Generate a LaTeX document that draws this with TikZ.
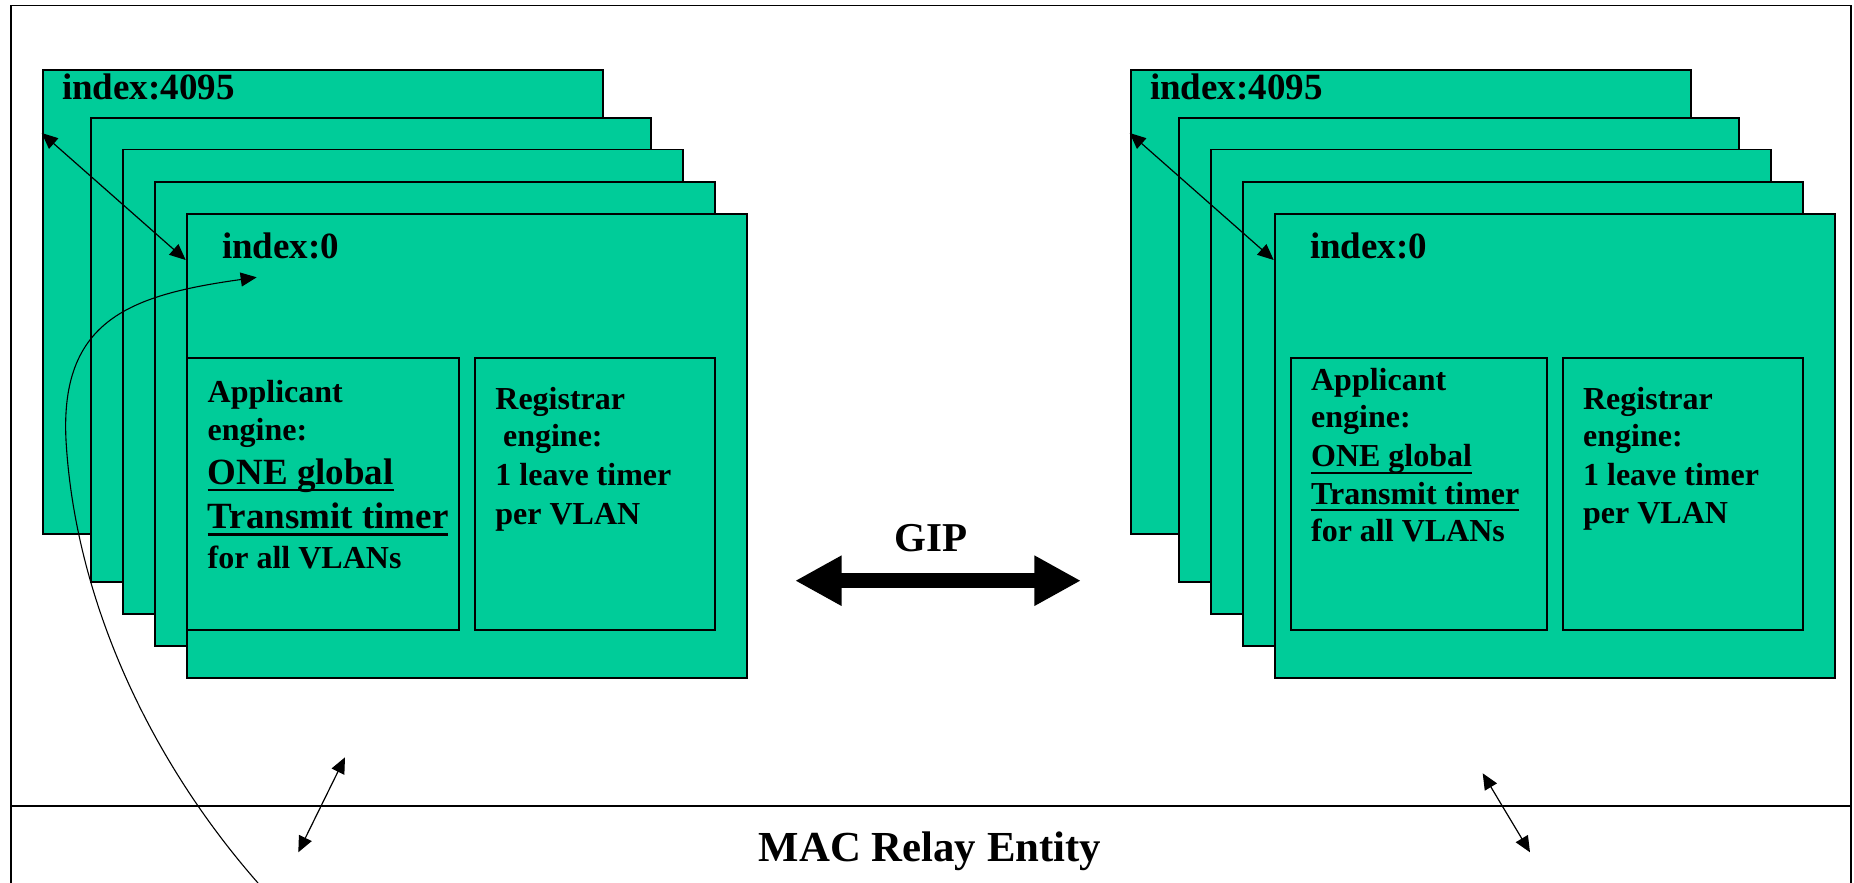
\documentclass[tikz,border=0pt]{standalone}
\usepackage{fontspec}
\setmainfont{Liberation Serif}
\usetikzlibrary{arrows.meta}
\definecolor{vlangreen}{RGB}{0,204,153}

\newcommand{\thickul}[1]{\setbox0\hbox{#1}\rlap{\rule[-3.6pt]{\wd0}{1.1pt}}\box0}

\tikzset{
card/.style={draw,fill=vlangreen,line width=0.9pt,anchor=north west,
inner sep=0pt,minimum width=280pt,minimum height=232pt},
engine/.style={draw,fill=vlangreen,line width=1pt,anchor=north west,
inner sep=0pt,minimum height=136.2pt},
region/.style={draw,line width=0.8pt,anchor=north west,inner sep=0pt,
minimum width=920pt},
lbl/.style={anchor=base west,inner sep=0pt,
font=\bfseries\fontsize{16}{19}\selectfont},
biglbl/.style={lbl,font=\bfseries\fontsize{18.5}{22}\selectfont},
link/.style={{Triangle[length=8pt,width=7pt]}-{Triangle[length=8pt,width=7pt]},
line width=0.6pt}
}

\begin{document}
\begin{tikzpicture}[x=0.5pt,y=-0.5pt]
\useasboundingbox (0,0) rectangle (1854,883);
\clip (0,0) rectangle (1854,883);

% bridge frame and relay
\node[region,minimum height=400pt](gvrp) at (10,4.7){};
\node[region,minimum height=60pt,line width=1.1pt](relay) at (10,804.7){};

% one card per VLAN, both ports
\foreach \n/\x/\y in {1/41.7/69, 2/90/117, 3/122/148.7, 4/153.7/181, 5/185.7/213}{
\node[card](l\n) at (\x,\y){};
\node[card](r\n) at (\x+1088,\y){};
}

\node[engine,minimum width=136.3pt](lapp) at (185.7,356.7){};
\node[engine,minimum width=120.2pt](lreg) at (473.7,356.7){};
\node[engine,minimum width=128.2pt](rapp) at (1289.7,356.7){};
\node[engine,minimum width=120.2pt](rreg) at (1561.7,356.7){};

% left port
\node[biglbl](ltop) at (61.7,99.3){index:4095};
\node[biglbl](lzero) at (221.7,258.3){index:0};

\node[lbl](la1) at (207.3,402.7){Applicant};
\node[lbl](la2) at (207.3,440){engine:};
\node[biglbl](la3) at (207.3,484){\thickul{ONE global}};
\node[biglbl](la4) at (207.3,528.3){\thickul{Transmit timer}};
\node[lbl](la5) at (207.3,568.3){for all VLANs};

\node[lbl](lr1) at (495,409){Registrar};
\node[lbl](lr2) at (502.7,446.7){engine:};
\node[lbl](lr3) at (495,485.7){1 leave timer};
\node[lbl](lr4) at (495,524){per VLAN};

% right port
\node[biglbl](rtop) at (1149.7,99.3){index:4095};
\node[biglbl](rzero) at (1309.7,258.3){index:0};

\node[lbl](ra1) at (1310.7,390){Applicant};
\node[lbl](ra2) at (1310.7,427.3){engine:};
\node[lbl](ra3) at (1310.7,466.7){\thickul{ONE global}};
\node[lbl](ra4) at (1310.7,504){\thickul{Transmit timer}};
\node[lbl](ra5) at (1310.7,541.7){for all VLANs};

\node[lbl](rr1) at (1582.7,409){Registrar};
\node[lbl](rr2) at (1582.7,446.7){engine:};
\node[lbl](rr3) at (1582.7,485.7){1 leave timer};
\node[lbl](rr4) at (1582.7,523.3){per VLAN};

\draw[link] ([yshift=-32pt]l1.north west) -- ([yshift=-23.5pt]l5.north west);
\draw[link] ([yshift=-32pt]r1.north west) -- ([yshift=-23.5pt]r5.north west);

% transmit timer loop
\coordinate (cstart) at (258,883);
\coordinate (ctip) at (256.7,277.3);
\draw[line width=0.55pt,-{Triangle[length=8pt,width=7pt]}] (cstart)
.. controls (150,760) and (75,600) .. (66,440)
.. controls (60,320) and (130,295) .. (ctip);

% GIP
\node[anchor=base,inner sep=0pt,font=\bfseries\fontsize{20.5}{24}\selectfont](gip) at (931,551.7){GIP};
\coordinate (gipL) at (795,580.7);
\coordinate (gipR) at (1081,580.7);
\draw[line width=7.65pt,{Triangle[length=23.3pt,width=23.5pt]}-{Triangle[length=23.3pt,width=23.5pt]}] (gipL) -- (gipR);

% to the relay
\coordinate (lu) at (345,757.3);
\coordinate (ld) at (298.3,852.3);
\coordinate (ru) at (1482.7,773.3);
\coordinate (rd) at (1530,852.3);
\draw[link] (lu) -- (ld);
\draw[link] (ru) -- (rd);

\node[anchor=base,inner sep=0pt,font=\bfseries\fontsize{21.4}{25}\selectfont](mac) at (930,861){MAC Relay Entity};
\end{tikzpicture}
\end{document}
